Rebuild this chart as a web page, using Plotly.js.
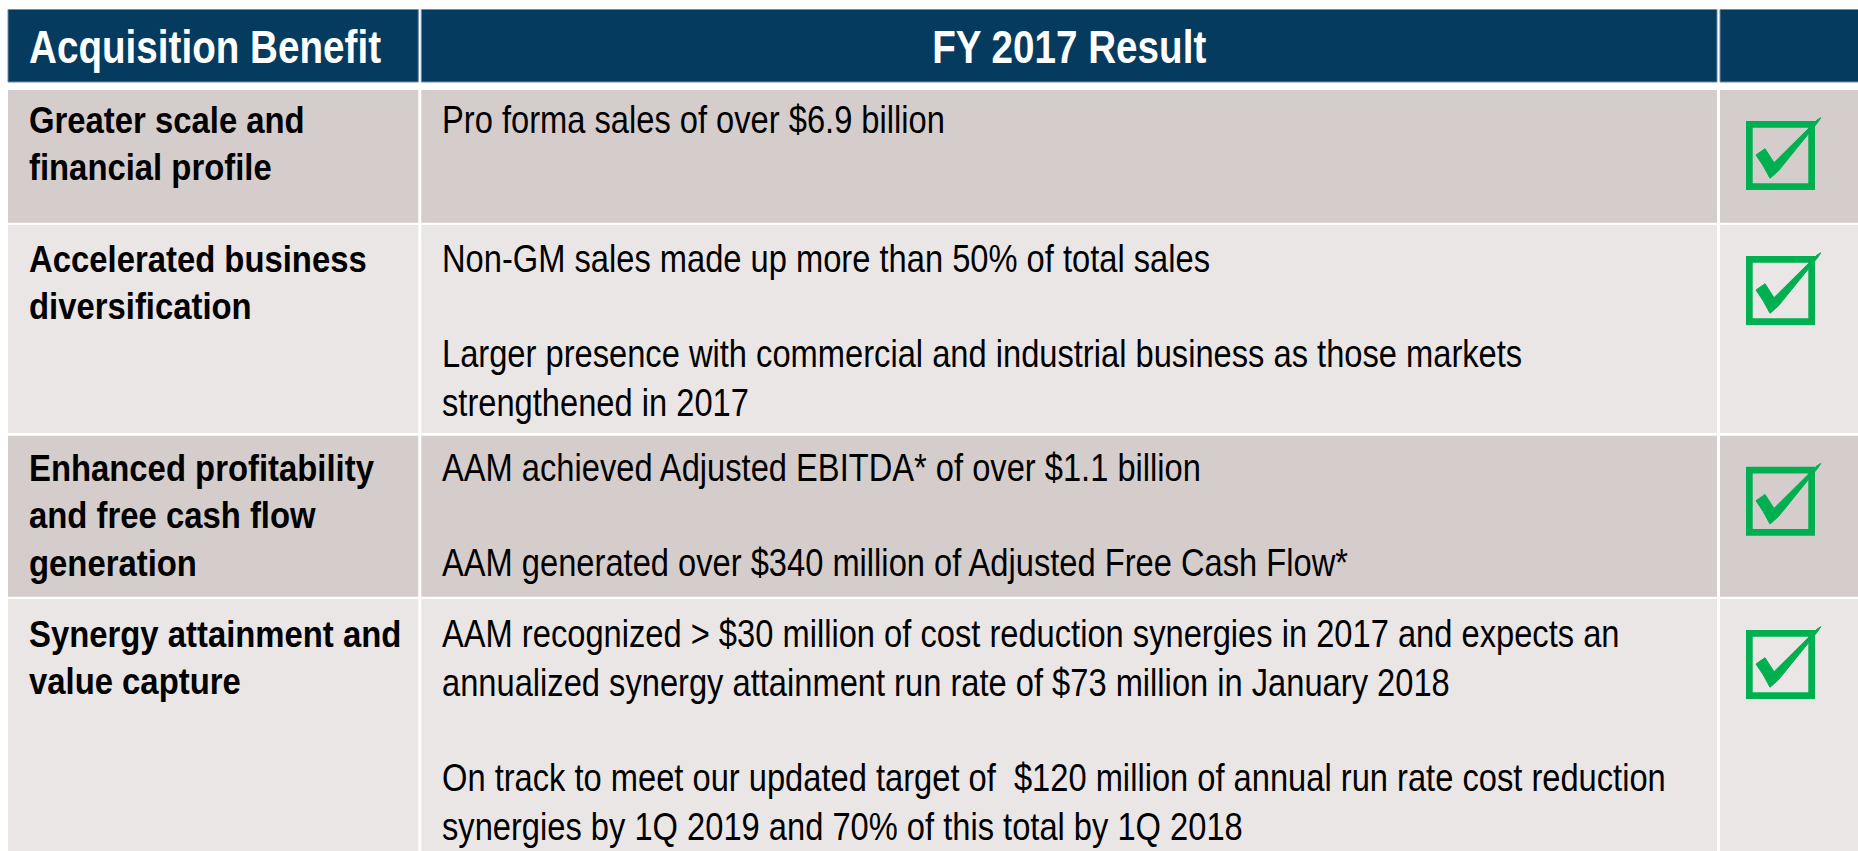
<!DOCTYPE html>
<html>
<head>
<meta charset="utf-8">
<script src="https://cdn.plot.ly/plotly-3.0.1.min.js"></script>
<style>html,body{margin:0;padding:0;background:#fff;}#chart{width:1858px;height:851px;}</style>
</head>
<body>
<div id="chart"></div>
<script>
// ---- data ----
const headers = ['Acquisition Benefit', 'FY 2017 Result', ''];
const benefits = [
  'Greater scale and<br>financial profile',
  'Accelerated business<br>diversification',
  'Enhanced profitability<br>and free cash flow<br>generation',
  'Synergy attainment and<br>value capture'
];
const results = [
  ['Pro forma sales of over $6.9 billion'],
  ['Non-GM sales made up more than 50% of total sales',
   'Larger presence with commercial and industrial business as those markets<br>strengthened in 2017'],
  ['AAM achieved Adjusted EBITDA* of over $1.1 billion',
   'AAM generated over $340 million of Adjusted Free Cash Flow*'],
  ['AAM recognized > $30 million of cost reduction synergies in 2017 and expects an<br>annualized synergy attainment run rate of $73 million in January 2018',
   'On track to meet our updated target of \u00A0$120 million of annual run rate cost reduction<br>synergies by 1Q 2019 and 70% of this total by 1Q 2018']
];
const achieved = [true, true, true, true];

// ---- layout geometry & style ----
const W = 1858, H = 851;
const colX0 = [8, 421.3, 1720];
const colX1 = [418.3, 1717, 1880];
const headY0 = 9.5, headY1 = 82;
const rowY0 = [90, 225, 435.7, 599];
const rowY1 = [222.7, 433, 596.7, 880];
const firstLine = [32, 36, 34, 37];      // first text line centre below row top
const rowFill = ['#D5CDCB', '#EAE6E5'];
const headFill = '#053B5F';
const green = '#00B050';
const FONT = '"Liberation Sans", Arial, sans-serif';
const HEAD_SIZE = 46, HEAD_SX = 0.84;
const COL1_SIZE = 36.5, COL1_SX = 0.90;
const COL2_SIZE = 38, COL2_SX = 0.86;
const PARA_GAP = 45;

const shapes = [];
const annotations = [];
const annScale = [];
const annOrigin = [];
function addAnn(a, sx, origin) { annotations.push(a); annScale.push(sx); annOrigin.push(origin); }

// header cells
for (let c = 0; c < 3; c++) {
  shapes.push({type:'rect', xref:'x', yref:'y', x0: colX0[c], x1: colX1[c], y0: headY0, y1: headY1,
    fillcolor: headFill, line:{color:'#6F8CA6', width:1}, layer:'below'});
}
addAnn({xref:'x', yref:'y', x: 27, y: (headY0+headY1)/2 + 1, xanchor:'left', yanchor:'middle',
  text: headers[0], showarrow:false, font:{family:FONT, size:HEAD_SIZE, color:'#ffffff', weight:'bold'}}, HEAD_SX, 'left');
addAnn({xref:'x', yref:'y', x: (colX0[1]+colX1[1])/2, y: (headY0+headY1)/2 + 1, xanchor:'center', yanchor:'middle',
  text: headers[1], showarrow:false, font:{family:FONT, size:HEAD_SIZE, color:'#ffffff', weight:'bold'}}, HEAD_SX, 'center');

// body rows
for (let r = 0; r < benefits.length; r++) {
  const fill = rowFill[r % 2];
  for (let c = 0; c < 3; c++) {
    shapes.push({type:'rect', xref:'x', yref:'y', x0: colX0[c], x1: colX1[c], y0: rowY0[r], y1: rowY1[r],
      fillcolor: fill, line:{width:0}, layer:'below'});
  }
  const centre = rowY0[r] + firstLine[r];
  addAnn({xref:'x', yref:'y', x: 27, y: centre - 0.62*COL1_SIZE - 1, xanchor:'left', yanchor:'top', align:'left',
    text: benefits[r], showarrow:false, font:{family:FONT, size:COL1_SIZE, color:'#000000', weight:'bold'}}, COL1_SX, 'left');
  let c2 = centre;
  results[r].forEach(p => {
    addAnn({xref:'x', yref:'y', x: 440, y: c2 - 0.62*COL2_SIZE - 1, xanchor:'left', yanchor:'top', align:'left',
      text: p, showarrow:false, font:{family:FONT, size:COL2_SIZE, color:'#000000'}}, COL2_SX, 'left');
    const n = p.split('<br>').length;
    c2 += n * 1.3 * COL2_SIZE + PARA_GAP;
  });
  if (achieved[r]) {
    const bx = 1746, by = rowY0[r] + 31, s = 69, sw = 6.7;
    shapes.push({type:'rect', xref:'x', yref:'y', x0: bx + sw/2, x1: bx + s - sw/2, y0: by + sw/2, y1: by + s - sw/2,
      line:{color: green, width: sw}, fillcolor:'rgba(0,0,0,0)'});
    const pts = [[10,34],[19,27.7],[28,41.7],[70.7,-0.7],[74.7,-3.3],[72.3,0.7],[32.3,50],[24,57.3],[17.3,45]];
    const path = pts.map((p,i) => (i ? 'L' : 'M') + (bx + p[0]) + ',' + (by + p[1])).join(' ') + ' Z';
    shapes.push({type:'path', xref:'x', yref:'y', path: path, fillcolor: green, line:{color: green, width:1}});
  }
}

const layout = {
  width: W, height: H,
  margin: {l:0, r:0, t:0, b:0},
  paper_bgcolor: '#ffffff', plot_bgcolor: '#ffffff',
  xaxis: {range:[0, W], visible:false, fixedrange:true},
  yaxis: {range:[H, 0], visible:false, fixedrange:true},
  showlegend: false,
  shapes: shapes,
  annotations: annotations
};
Plotly.newPlot('chart', [{type:'scatter', x:[], y:[], hoverinfo:'skip'}], layout, {staticPlot:true, displayModeBar:false})
  .then(gd => {
    gd.querySelectorAll('g.annotation').forEach(g => {
      const i = +g.getAttribute('data-index');
      const t = g.querySelector('text.annotation-text');
      if (!t || isNaN(i)) return;
      t.style.transformBox = 'fill-box';
      t.style.transformOrigin = annOrigin[i] + ' center';
      t.style.transform = 'scaleX(' + annScale[i] + ')';
    });
  });
</script>
</body>
</html>
